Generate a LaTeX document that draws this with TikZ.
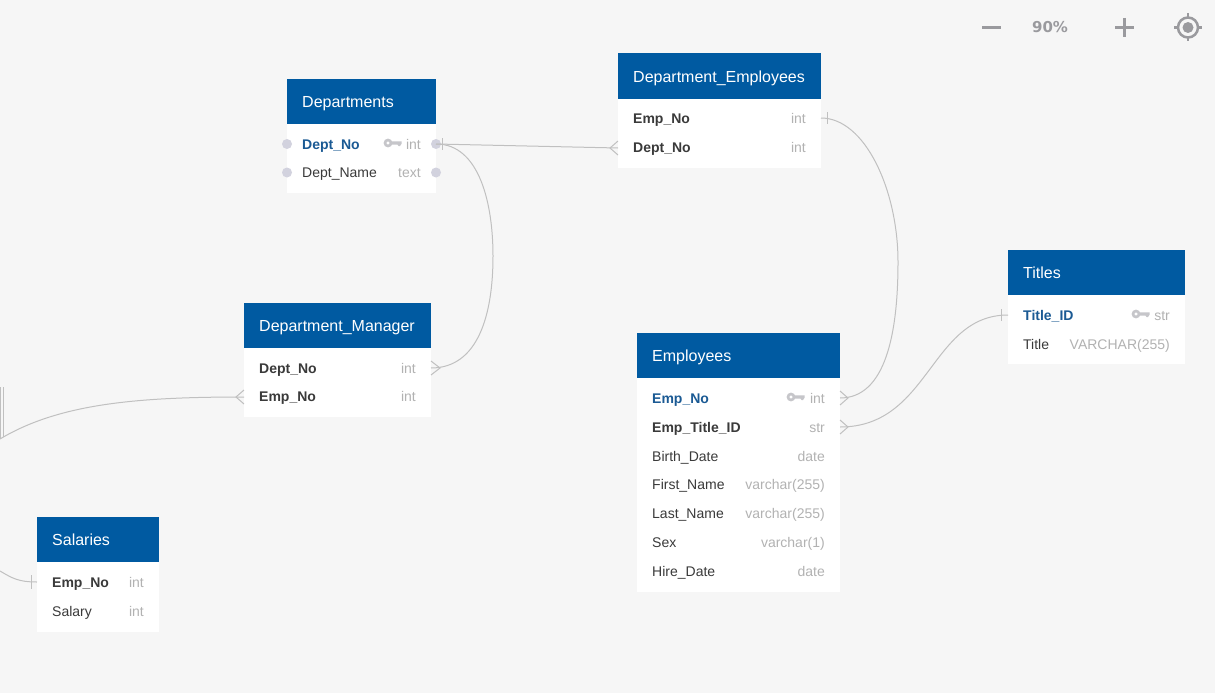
\documentclass[tikz,border=0pt]{standalone}
\usepackage{fontspec}
\setmainfont{Liberation Sans}
\newfontfamily\toolfont{DejaVu Sans}
\definecolor{pagegray}{HTML}{F6F6F6}
\definecolor{headblue}{HTML}{005AA1}
\definecolor{keyblue}{HTML}{1B5A94}
\definecolor{textdark}{HTML}{3A3A3A}
\definecolor{typegray}{HTML}{B2B2B2}
\definecolor{icongray}{HTML}{C6C6CA}
\definecolor{dotgray}{HTML}{D2D2DE}
\definecolor{linegray}{HTML}{C0C0C0}
\definecolor{toolgray}{HTML}{9A9A9E}
\tikzset{
  headbox/.style = {fill = headblue},
  bodybox/.style = {fill = white},
  headtext/.style = {anchor = base west, inner sep = 0pt, text = white, font = \fontsize{16}{16}\selectfont},
  fieldtext/.style = {anchor = base west, inner sep = 0pt, text = textdark, font = \fontsize{14}{14}\selectfont},
  boldtext/.style = {fieldtext, font = \fontsize{14}{14}\selectfont\bfseries},
  keytext/.style = {boldtext, text = keyblue},
  typetext/.style = {anchor = base east, inner sep = 0pt, text = typegray, font = \fontsize{14}{14}\selectfont},
  relation/.style = {draw = linegray, line width = 1pt},
  keyicon/.pic = {
    \draw[icongray, line width = 2.6pt] (0,0) circle (3);
    \fill[icongray] (3,-1.6) -- (13.5,-1.6) -- (13.5,0.8) -- (12,3) -- (10.5,3) -- (9.5,1.6) -- (3,1.6) -- cycle;
  }
}

\begin{document}
\begin{tikzpicture}[x = 1pt, y = -1pt]
\fill[pagegray] (0,0) rectangle (1215,693);
\useasboundingbox (0,0) rectangle (1215,693);

%%Departments
\fill[bodybox] (287,124) rectangle (436,193);
\fill[headbox] (287,79) rectangle (436,124);
\node[headtext] (deptsHead) at (302,107) {Departments};
\node[keytext] (deptsNo) at (302,149) {Dept\_No};
\node[typetext] (deptsNoType) at (421,149) {int};
\node[fieldtext] (deptsName) at (302,177) {Dept\_Name};
\node[typetext] (deptsNameType) at (421,177) {text};
\pic at (388,143) {keyicon};
\foreach \x/\y in {287/144, 436/144, 287/172.5, 436/172.5}
  \fill[dotgray] (\x,\y) circle (5);
\coordinate (deptsOut) at (436,144);

%%Department_Employees
\fill[bodybox] (618,99) rectangle (821,168);
\fill[headbox] (618,53) rectangle (821,99);
\node[headtext] (deHead) at (633,82) {Department\_Employees};
\node[boldtext] (deEmp) at (633,123) {Emp\_No};
\node[typetext] (deEmpType) at (806,123) {int};
\node[boldtext] (deDept) at (633,152) {Dept\_No};
\node[typetext] (deDeptType) at (806,152) {int};
\coordinate (deEmpOut) at (821,118);
\coordinate (deDeptIn) at (618,148);

%%Titles
\fill[bodybox] (1008,295) rectangle (1185,364);
\fill[headbox] (1008,250) rectangle (1185,295);
\node[headtext] (titlesHead) at (1023,278) {Titles};
\node[keytext] (titlesId) at (1023,320) {Title\_ID};
\node[typetext] (titlesIdType) at (1170,320) {str};
\node[fieldtext] (titlesName) at (1023,349) {Title};
\node[typetext] (titlesNameType) at (1170,349) {VARCHAR(255)};
\pic at (1136,314) {keyicon};
\coordinate (titlesIn) at (1008,315);

%%Department_Manager
\fill[bodybox] (244,348) rectangle (431,417);
\fill[headbox] (244,303) rectangle (431,348);
\node[headtext] (dmHead) at (259,331) {Department\_Manager};
\node[boldtext] (dmDept) at (259,373) {Dept\_No};
\node[typetext] (dmDeptType) at (416,373) {int};
\node[boldtext] (dmEmp) at (259,401) {Emp\_No};
\node[typetext] (dmEmpType) at (416,401) {int};
\coordinate (dmDeptOut) at (431,368);
\coordinate (dmEmpIn) at (244,397);

%%Employees
\fill[bodybox] (637,378) rectangle (840,592);
\fill[headbox] (637,333) rectangle (840,378);
\node[headtext] (empHead) at (652,361) {Employees};
\node[keytext] (empNo) at (652,403) {Emp\_No};
\node[typetext] (empNoType) at (825,403) {int};
\node[boldtext] (empTitle) at (652,432) {Emp\_Title\_ID};
\node[typetext] (empTitleType) at (825,432) {str};
\node[fieldtext] (empBirth) at (652,461) {Birth\_Date};
\node[typetext] (empBirthType) at (825,461) {date};
\node[fieldtext] (empFirst) at (652,489) {First\_Name};
\node[typetext] (empFirstType) at (825,489) {varchar(255)};
\node[fieldtext] (empLast) at (652,518) {Last\_Name};
\node[typetext] (empLastType) at (825,518) {varchar(255)};
\node[fieldtext] (empSex) at (652,547) {Sex};
\node[typetext] (empSexType) at (825,547) {varchar(1)};
\node[fieldtext] (empHire) at (652,576) {Hire\_Date};
\node[typetext] (empHireType) at (825,576) {date};
\pic at (791,397) {keyicon};
\coordinate (empNoOut) at (840,398);
\coordinate (empTitleOut) at (840,427);

%%Salaries
\fill[bodybox] (37,562) rectangle (159,632);
\fill[headbox] (37,517) rectangle (159,562);
\node[headtext] (salHead) at (52,545) {Salaries};
\node[boldtext] (salEmp) at (52,587) {Emp\_No};
\node[typetext] (salEmpType) at (144,587) {int};
\node[fieldtext] (salAmount) at (52,616) {Salary};
\node[typetext] (salAmountType) at (144,616) {int};
\coordinate (salIn) at (37,582);

%%free ends at the left border
\coordinate (leftTop) at (0,439);
\coordinate (leftLow) at (0,571);

%%relations
\draw[relation] (deptsOut) -- (deDeptIn);
\draw[relation] (deptsOut) .. controls (480,144) and (493,205) .. (493,256)
  .. controls (493,315) and (478,368) .. (dmDeptOut);
\draw[relation] (deEmpOut) .. controls (865,118) and (898,190) .. (898,262)
  .. controls (898,335) and (885,398) .. (empNoOut);
\draw[relation] (empTitleOut) .. controls (930,427) and (930,315) .. (titlesIn);
\draw[relation] (dmEmpIn) .. controls (140,397) and (60,403) .. (leftTop);
\draw[relation] (leftLow) .. controls (12,578) and (18,582) .. (salIn);

%%bars and crow feet
\draw[relation] (442,138) -- (442,150);
\draw[relation] (827,112) -- (827,124);
\draw[relation] (1001,309) -- (1001,321);
\draw[relation] (31,575) -- (31,589);
\draw[relation] (618,141) -- (610,148) -- (618,155);
\draw[relation] (431,361) -- (440,368) -- (431,375);
\draw[relation] (244,390) -- (236,397) -- (244,404);
\draw[relation] (840,391) -- (848,398) -- (840,405);
\draw[relation] (840,420) -- (848,427) -- (840,434);
\draw[relation] (0.5,387) -- (0.5,439);
\draw[relation] (3,387) -- (3,437);

%%zoom tools
\draw[toolgray, line width = 3pt] (982,27.5) -- (1001,27.5);
\node[anchor = base, inner sep = 0pt, text = toolgray, font = \toolfont\fontsize{15}{15}\selectfont\bfseries] (zoomText) at (1050,33) {90\%};
\draw[toolgray, line width = 3pt] (1115,27.5) -- (1134,27.5) (1124.5,18) -- (1124.5,37);
\draw[toolgray, line width = 2.5pt] (1188,27.5) circle (10);
\fill[toolgray] (1188,27.5) circle (5.5);
\draw[toolgray, line width = 2.5pt] (1188,13.5) -- (1188,17.5) (1188,37.5) -- (1188,41.5)
  (1174,27.5) -- (1178,27.5) (1198,27.5) -- (1202,27.5);
\end{tikzpicture}
\end{document}
